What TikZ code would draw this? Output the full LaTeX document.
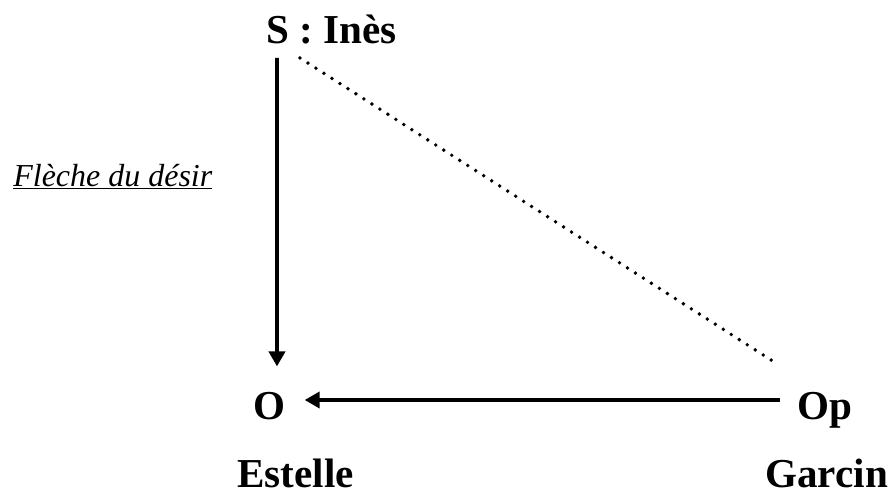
\documentclass[tikz,border=0pt]{standalone}
\usepackage{fontspec}
\setmainfont{Liberation Serif}
\usetikzlibrary{arrows.meta}

\begin{document}
\begin{tikzpicture}[
  x=0.02cm, y=-0.02cm,
  actant/.style={font=\fontsize{23.4}{28}\selectfont\bfseries, inner sep=0pt, anchor=base west},
  axis/.style={line width=2.2pt},
  >={Triangle[length=3mm, width=3.2mm]}
]
\useasboundingbox (0,0) rectangle (890,497);

\node[actant] (subj) at (266,43) {S : Inès};
\node[actant] (obj) at (253,419) {O};
\node[actant] (opp) at (797,419) {Op};
\node[actant] (estelle) at (237,487) {Estelle};
\node[actant] (garcin) at (765,487) {Garcin};
\node[anchor=base west, inner sep=0pt, font=\fontsize{18.2}{22}\selectfont\itshape] (desir) at (13,186) {\underline{Flèche du désir}};

% fleche du desir
\draw[axis, ->] ([xshift=0.22cm, yshift=-0.28cm]subj.south west) -- ([xshift=0.48cm, yshift=0.5cm]obj.north west);
\draw[axis, ->] ([xshift=-0.34cm, yshift=0.38cm]opp.base west) -- ([xshift=0.38cm, yshift=0.38cm]obj.base east);

% lien S -- Op
\draw[line width=2.2pt, line cap=round, dash pattern=on 0pt off 5.4pt]
  ([xshift=0.68cm, yshift=-0.28cm]subj.south west) -- ([xshift=-0.38cm, yshift=0.54cm]opp.north west);

\end{tikzpicture}
\end{document}
